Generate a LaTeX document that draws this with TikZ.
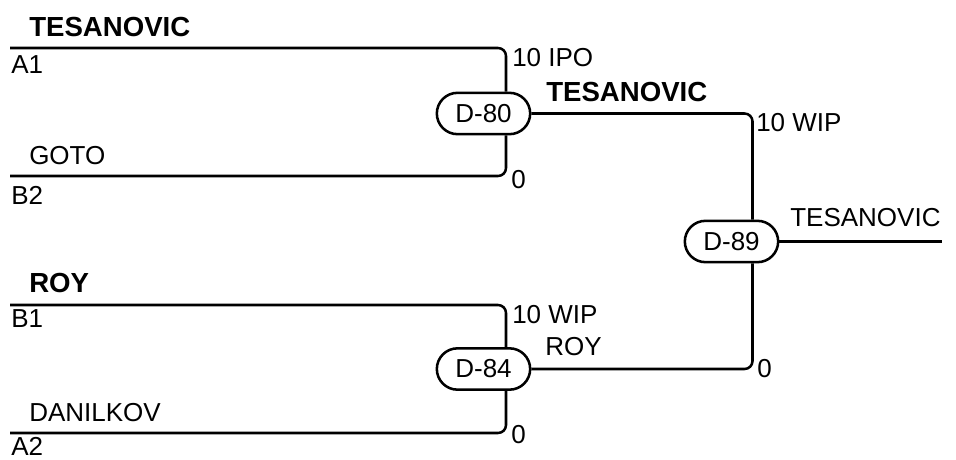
\documentclass[tikz,border=0pt]{standalone}
\usepackage{fontspec}
\setmainfont{Liberation Sans}
\usetikzlibrary{shapes.misc}

\begin{document}
\begin{tikzpicture}[x=0.75pt, y=-0.75pt,
	wire/.style={draw=black, line width=1.9pt, rounded corners=6pt},
	match/.style={rounded rectangle, draw=black, line width=1.9pt, fill=white,
		minimum width=70pt, minimum height=31pt, inner sep=0pt,
		font=\fontsize{19.5}{23}\selectfont},
	lbl/.style={anchor=west, inner sep=0pt, font=\fontsize{19.5}{23}\selectfont},
	win/.style={lbl, font=\fontsize{20.7}{24}\selectfont\bfseries}
]
\useasboundingbox (0,0) rectangle (956,460);

% Entry ends of the bracket
\coordinate (a1) at (10,48);
\coordinate (b2) at (10,176);
\coordinate (b1) at (10,305);
\coordinate (a2) at (10,433);
\coordinate (champ) at (942,241.5);

% Match boxes
\node[match] (d80) at (483.5,113.5) {D-80};
\node[match] (d84) at (483.5,369) {D-84};
\node[match] (d89) at (731.5,241.5) {D-89};

% Vertical joins
\coordinate (v80) at (506,113.5);
\coordinate (v84) at (506,369);
\coordinate (v89) at (752.5,241.5);

% Connectors
\draw[wire] (a1) -| (v80 |- d80.north);
\draw[wire] (b2) -| (v80 |- d80.south);
\draw[wire] (b1) -| (v84 |- d84.north);
\draw[wire] (a2) -| (v84 |- d84.south);
\draw[wire] (d80.east) -| (v89 |- d89.north);
\draw[wire] (d84.east) -| (v89 |- d89.south);
\draw[wire] (d89.east) -- (champ);

% Player names and seeds
\node[win] (nTes) at (29,27) {TESANOVIC};
\node[lbl] (sA1) at (11,65) {A1};
\node[lbl] (nGoto) at (29,156) {GOTO};
\node[lbl] (sB2) at (11,195) {B2};
\node[win] (nRoy) at (29,283) {ROY};
\node[lbl] (sB1) at (11,319) {B1};
\node[lbl] (nDan) at (29,413) {DANILKOV};
\node[lbl] (sA2) at (11,446) {A2};

% Scores and winners
\node[lbl] (r80a) at (512,58) {10 IPO};
\node[lbl] (r80b) at (511,180) {0};
\node[win] (w80) at (546,92) {TESANOVIC};
\node[lbl] (r84a) at (512,315) {10 WIP};
\node[lbl] (r84b) at (511,435) {0};
\node[lbl] (w84) at (545,347) {ROY};
\node[lbl] (r89a) at (756,123) {10 WIP};
\node[lbl] (r89b) at (757,369) {0};
\node[lbl] (w89) at (790,218) {TESANOVIC};

\end{tikzpicture}
\end{document}
